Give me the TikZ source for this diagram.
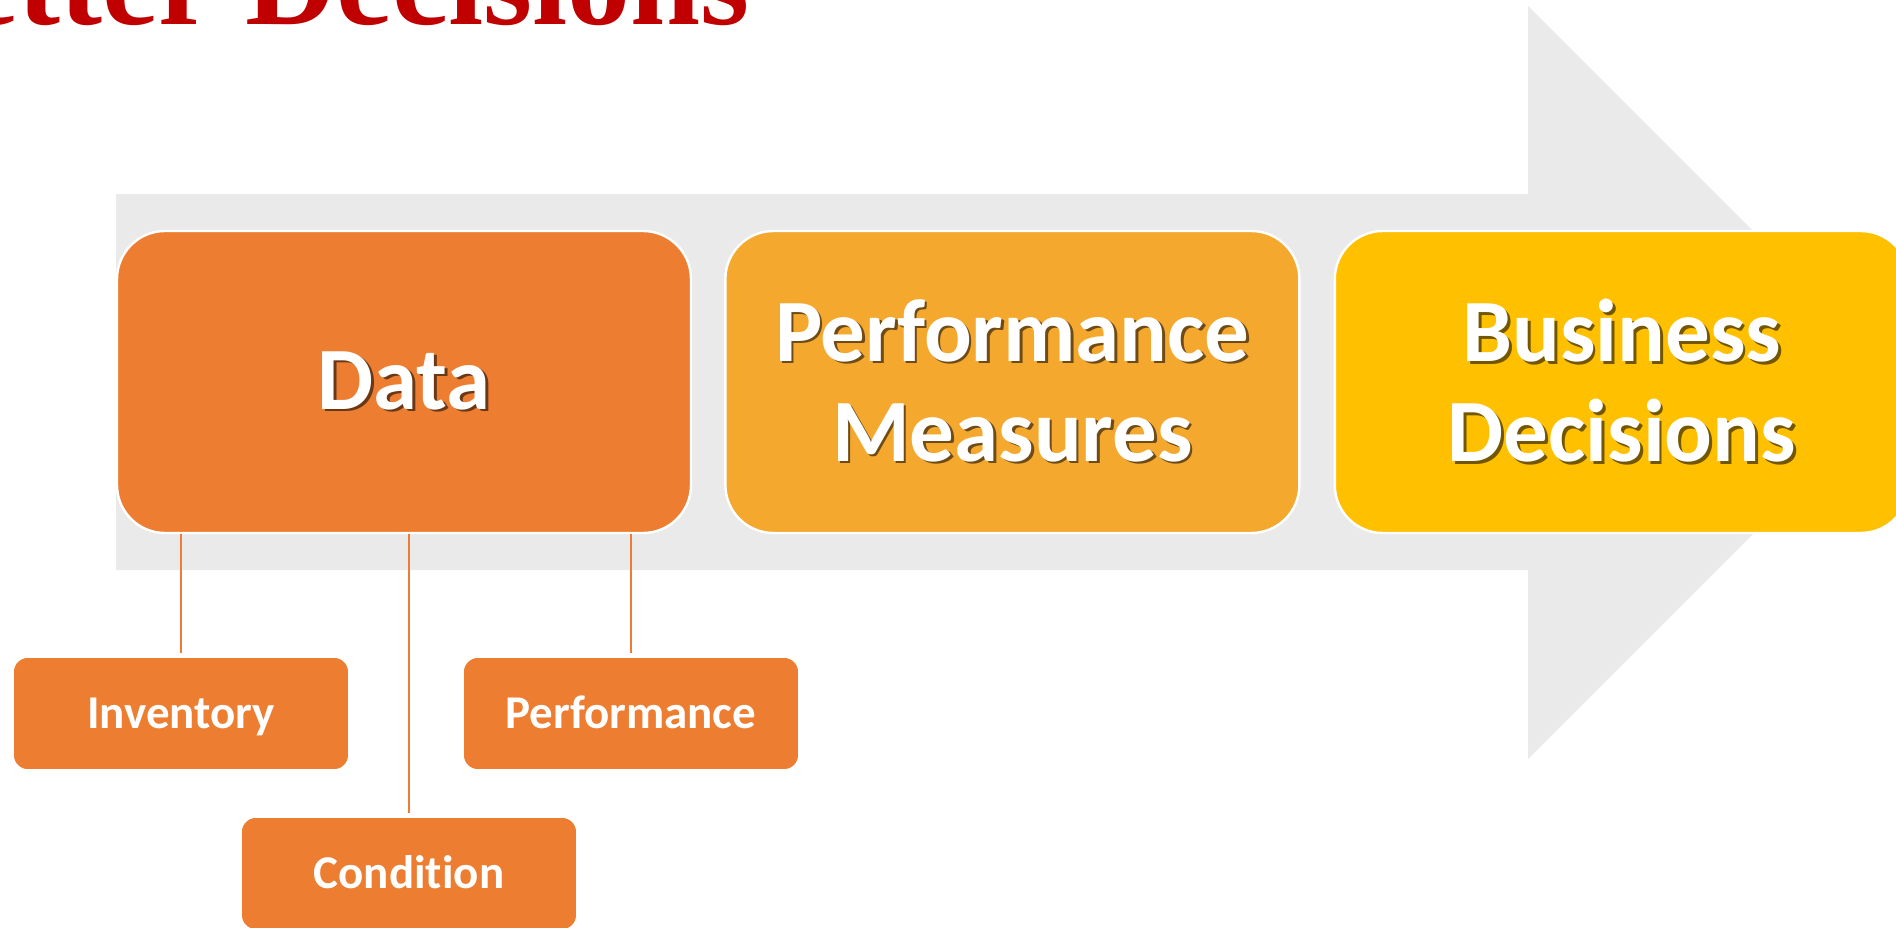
\documentclass[tikz,border=0pt]{standalone}
\usepackage{fontspec}
\setmainfont{Carlito}[Ligatures=NoCommon]
\newfontfamily\titlefont{Liberation Serif}
\usetikzlibrary{positioning}

\definecolor{dataorange}{HTML}{ED7D31}
\definecolor{measorange}{HTML}{F5A82E}
\definecolor{decgold}{HTML}{FFC000}
\definecolor{arrowgray}{HTML}{EAEAEA}
\definecolor{titlered}{HTML}{C00000}
\colorlet{shadecol}{black!55}

% white text with a soft dark copy behind it
\newcommand{\shtext}[1]{\makebox[0pt][l]{\hspace{1.3pt}\raisebox{-1.3pt}{\color{shadecol}#1}}#1}

\begin{document}
\begin{tikzpicture}[x=0.5pt,y=-0.5pt,
    mainbox/.style={rectangle, rounded corners=24pt, fill=#1, draw=white, line width=1.2pt,
        minimum width=287pt, minimum height=151pt, inner sep=0pt, text=white,
        font=\fontsize{44.5}{50}\selectfont\bfseries, align=center,
        execute at begin node={\colorlet{shadecol}{#1!45!black}}},
    subbox/.style={rectangle, rounded corners=7.5pt, fill=dataorange, draw=white,
        line width=0.8pt, minimum width=168pt, minimum height=56.5pt, inner sep=0pt,
        text=white, text height=15pt, text depth=0pt,
        font=\fontsize{23.5}{28}\selectfont\bfseries},
    link/.style={draw=dataorange, line width=1.3pt, shorten >=1.5pt}]
    \clip (0,0) rectangle (1896,927);

    % grey arrow behind the row
    \fill[arrowgray] (116,194) -- (1528,194) -- (1528,6) -- (1904.5,382.5)
        -- (1528,759) -- (1528,570) -- (116,570) -- cycle;

    \node[anchor=base east, inner sep=0pt, text=titlered,
        font=\titlefont\bfseries\fontsize{63}{70}\selectfont] (title) at (750,24) {Better Decisions};

    % main row
    \node[mainbox=dataorange] (data) at (404,382) {\shtext{Data}};
    \node[mainbox=measorange, right=16pt of data] (measures) {\shtext{Performance}\\\shtext{Measures}};
    \node[mainbox=decgold, right=16.5pt of measures] (decisions) {\shtext{Business}\\\shtext{Decisions}};

    % data sources
    \node[subbox] (inventory) at (181,713.5) {Inventory};
    \node[subbox] (performance) at (631,713.5) {Performance};
    \node[subbox] (condition) at (409,873.5) {Condition};

    \draw[link] (inventory.north |- data.south) -- (inventory.north);
    \draw[link] (condition.north |- data.south) -- (condition.north);
    \draw[link] (performance.north |- data.south) -- (performance.north);
\end{tikzpicture}
\end{document}
